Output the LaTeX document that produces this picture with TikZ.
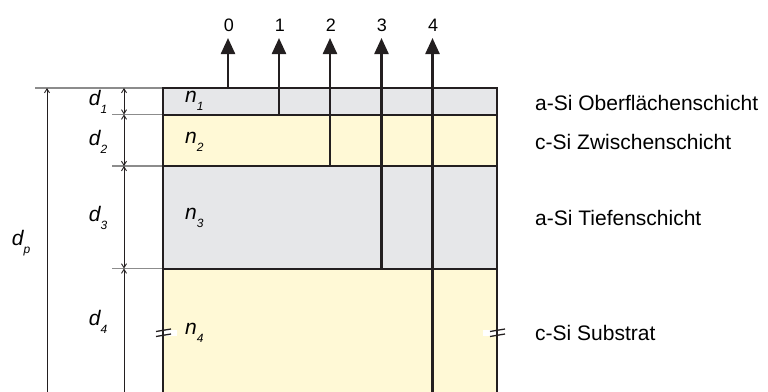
\documentclass[tikz,border=0pt]{standalone}
\usepackage{fontspec}
\setmainfont{Liberation Sans}
\usetikzlibrary{arrows.meta}
\definecolor{grayfill}{HTML}{E6E7E9}
\definecolor{creamfill}{HTML}{FFF9D6}
\definecolor{edgecol}{HTML}{231F20}
\definecolor{guidecol}{HTML}{8C8C8C}
\newcommand{\subsc}[1]{\raisebox{-0.4em}{\fontsize{12}{14}\selectfont #1}}
\tikzset{
  boxline/.style={edgecol, line width=2pt},
  guideline/.style={guidecol, line width=1.3pt},
  ray/.style={edgecol, line width=2.4pt, -{Triangle[length=16pt,width=14pt]}},
  dimline/.style={edgecol, line width=0.9pt},
  dimtip/.style={{Straight Barb[length=4pt,width=5pt]}-{Straight Barb[length=4pt,width=5pt]}},
  rightlabel/.style={anchor=west, inner sep=0pt, font=\fontsize{21}{24}\selectfont},
  numlabel/.style={inner sep=0pt, font=\fontsize{18}{21}\selectfont},
  symlabel/.style={inner sep=0pt, font=\fontsize{21}{24}\selectfont\itshape},
  breakmark/.style={edgecol, line width=1.3pt}
}
\begin{document}
\begin{tikzpicture}[x=1pt,y=-1pt]
\useasboundingbox (0,0) rectangle (768,391);
% layer fills
\fill[grayfill]  (163,88)    rectangle (497,114.5);
\fill[creamfill] (163,114.5) rectangle (497,166);
\fill[grayfill]  (163,166)   rectangle (497,268.5);
\fill[creamfill] (163,268.5) rectangle (497,400);
% guide lines
\draw[guideline] (35,88) -- (163,88);
\draw[guideline] (112,114.5) -- (163,114.5);
\draw[guideline] (112,166) -- (163,166);
\draw[guideline] (112,268.5) -- (163,268.5);
% box
\draw[boxline] (163,400) -- (163,88) -- (497,88) -- (497,400);
\draw[boxline] (163,114.5) -- (497,114.5);
\draw[boxline] (163,166) -- (497,166);
\draw[boxline] (163,268.5) -- (497,268.5);
% ray labels
\node[numlabel] (l0) at (229,25) {0};
\node[numlabel] (l1) at (280,25) {1};
\node[numlabel] (l2) at (331,25) {2};
\node[numlabel] (l3) at (382,25) {3};
\node[numlabel] (l4) at (433,25) {4};
\coordinate (s0) at (228,88);
\coordinate (s1) at (279,114.5);
\coordinate (s2) at (330,166);
\coordinate (s3) at (381.5,268.5);
\coordinate (s4) at (432.5,400);
\coordinate (t0) at (228,38);
\coordinate (t1) at (279,38);
\coordinate (t2) at (330,38);
\coordinate (t3) at (381.5,38);
\coordinate (t4) at (432.5,38);
\draw[ray] (s0) -- (t0);
\draw[ray] (s1) -- (t1);
\draw[ray] (s2) -- (t2);
\draw[ray] (s3) -- (t3);
\draw[ray] (s4) -- (t4);
% dimension lines
\coordinate (a0) at (124,88);
\coordinate (a1) at (124,114.5);
\coordinate (a2) at (124,166);
\coordinate (a3) at (124,268.5);
\coordinate (a4) at (124,400);
\draw[dimline, dimtip] (a0) -- (a1);
\draw[dimline, dimtip] (a1) -- (a2);
\draw[dimline, dimtip] (a2) -- (a3);
\draw[dimline, {Straight Barb[length=4pt,width=5pt]}-] (a3) -- (a4);
\coordinate (p0) at (47,88);
\coordinate (p1) at (47,400);
\draw[dimline, -{Straight Barb[length=4pt,width=5pt]}] (p1) -- (p0);
% dimension labels
\node[symlabel] (d1) at (98,102) {d\subsc{1}};
\node[symlabel] (d2) at (98,142) {d\subsc{2}};
\node[symlabel] (d3) at (98,218) {d\subsc{3}};
\node[symlabel] (d4) at (98,322) {d\subsc{4}};
\node[symlabel] (dp) at (21,243) {d\subsc{p}};
% refractive index labels
\node[symlabel, anchor=west] (n1) at (185,101) {n\subsc{1}};
\node[symlabel, anchor=west] (n2) at (185,142) {n\subsc{2}};
\node[symlabel, anchor=west] (n3) at (185,218) {n\subsc{3}};
\node[symlabel, anchor=west] (n4) at (185,333) {n\subsc{4}};
% break marks
\fill[white] (164,330) rectangle (177,336);
\draw[breakmark] (156,331.5) -- (171,329);
\draw[breakmark] (156,336.5) -- (171,334);
\fill[white] (483,330) rectangle (496,336);
\draw[breakmark] (490,331.5) -- (505,329);
\draw[breakmark] (490,336.5) -- (505,334);
% layer names
\node[rightlabel] (r1) at (535,103) {a-Si Oberflächenschicht};
\node[rightlabel] (r2) at (535,142) {c-Si Zwischenschicht};
\node[rightlabel] (r3) at (535,218) {a-Si Tiefenschicht};
\node[rightlabel] (r4) at (535,333) {c-Si Substrat};
\end{tikzpicture}
\end{document}
